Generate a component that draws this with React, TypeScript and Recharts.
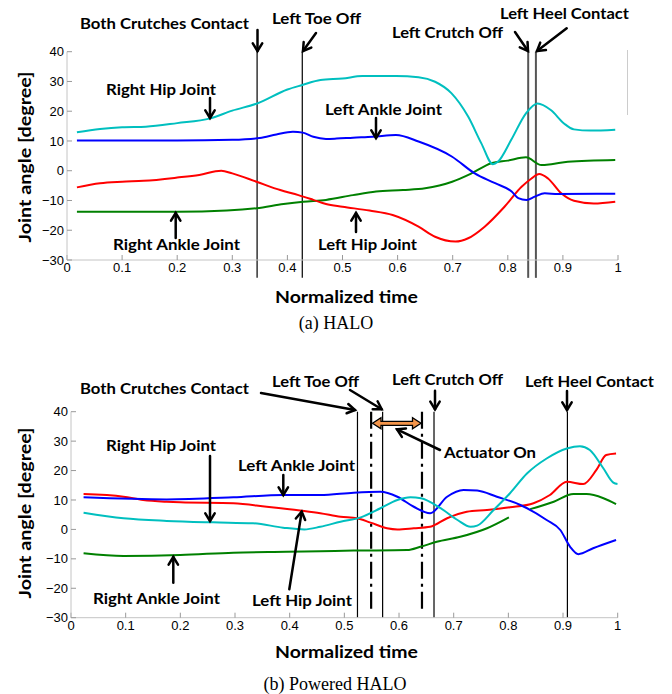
import React from "react";
import { LineChart, Line, XAxis, YAxis, ReferenceLine } from "recharts";

type Pt = [number, number];

const timeTicks = [0, 0.1, 0.2, 0.3, 0.4, 0.5, 0.6, 0.7, 0.8, 0.9, 1];
const angleTicks = [-30, -20, -10, 0, 10, 20, 30, 40];

// (a) HALO  [normalized time, joint angle in degree]
const haloRightHip: Pt[] = [
  [0.018, 12.9], [0.06, 14.0], [0.1, 14.6], [0.143, 14.8], [0.2, 16.0], [0.26, 17.6],
  [0.3, 20.2], [0.345, 22.6], [0.4, 27.3], [0.427, 28.8], [0.46, 30.5], [0.5, 31.0],
  [0.536, 31.8], [0.597, 31.8], [0.638, 31.4], [0.668, 29.9], [0.698, 26.0], [0.728, 18.2],
  [0.752, 9.2], [0.773, 2.2], [0.782, 3.0], [0.806, 10.3], [0.833, 19.3], [0.854, 22.6],
  [0.878, 20.4], [0.902, 15.9], [0.92, 13.9], [0.95, 13.5], [0.995, 13.8],
];
const haloLeftAnkle: Pt[] = [
  [0.018, 10.2], [0.2, 10.2], [0.3, 10.4], [0.35, 11.0], [0.38, 12.2], [0.41, 13.1],
  [0.428, 12.8], [0.447, 11.4], [0.47, 10.7], [0.489, 10.8], [0.519, 11.1], [0.555, 11.4],
  [0.597, 12.0], [0.638, 9.8], [0.699, 4.7], [0.74, -0.9], [0.777, -4.2], [0.807, -7.0],
  [0.819, -9.2], [0.834, -9.8], [0.849, -8.7], [0.867, -7.6], [0.891, -7.8], [0.995, -7.7],
];
const haloLeftHip: Pt[] = [
  [0.018, -5.6], [0.06, -4.2], [0.1, -3.7], [0.139, -3.4], [0.2, -2.3], [0.24, -1.4],
  [0.28, 0.0], [0.3, -0.9], [0.344, -3.7], [0.387, -6.5], [0.42, -8.2], [0.447, -9.8],
  [0.47, -11.2], [0.5, -12.1], [0.549, -13.4], [0.591, -14.9], [0.638, -18.8], [0.668, -22.2],
  [0.705, -23.8], [0.728, -22.7], [0.758, -18.8], [0.794, -12.1], [0.825, -5.4], [0.843, -2.6],
  [0.857, -1.1], [0.873, -2.6], [0.897, -7.6], [0.92, -10.1], [0.956, -11.0], [0.995, -10.4],
];
const haloRightAnkle: Pt[] = [
  [0.018, -13.8], [0.2, -13.8], [0.29, -13.4], [0.344, -12.6], [0.393, -11.2], [0.429, -10.4],
  [0.47, -9.8], [0.519, -8.2], [0.561, -7.0], [0.61, -6.5], [0.65, -5.9], [0.699, -3.7],
  [0.734, -0.9], [0.77, 2.5], [0.8, 3.4], [0.833, 4.5], [0.861, 1.9], [0.879, 2.2],
  [0.909, 3.0], [0.995, 3.6],
];
const haloEvents = [0.345, 0.427];
const haloLateEvents = [0.837, 0.851];

// (b) Powered HALO
const pwrLeftHip: Pt[] = [
  [0.023, 12.0], [0.096, 11.1], [0.132, 10.0], [0.175, 9.4], [0.2, 9.2], [0.297, 8.9],
  [0.358, 7.7], [0.419, 6.4], [0.456, 5.5], [0.493, 4.3], [0.523, 3.8], [0.548, 2.3],
  [0.578, 0.4], [0.597, 0.0], [0.627, 0.4], [0.657, 0.9], [0.688, 3.8], [0.724, 6.0],
  [0.761, 6.6], [0.803, 7.5], [0.846, 8.9], [0.876, 11.7], [0.907, 16.2], [0.937, 15.4],
  [0.961, 20.2], [0.979, 25.3], [0.997, 25.8],
];
const pwrLeftAnkle: Pt[] = [
  [0.023, 10.9], [0.175, 10.2], [0.297, 10.9], [0.388, 11.7], [0.456, 11.7], [0.517, 12.5],
  [0.566, 12.8], [0.597, 11.1], [0.627, 7.7], [0.657, 5.5], [0.688, 11.1], [0.718, 13.4],
  [0.743, 13.2], [0.779, 11.1], [0.822, 8.3], [0.87, 3.2], [0.895, -0.2], [0.913, -5.9],
  [0.928, -8.4], [0.955, -6.4], [0.997, -3.6],
];
const pwrRightHip: Pt[] = [
  [0.023, 5.7], [0.096, 3.8], [0.175, 2.9], [0.26, 2.4], [0.333, 2.1], [0.388, 0.6],
  [0.427, 0.0], [0.456, 0.9], [0.493, 2.6], [0.53, 4.1], [0.566, 7.2], [0.597, 10.0],
  [0.621, 10.9], [0.64, 10.6], [0.676, 7.2], [0.707, 3.2], [0.731, 0.9], [0.743, 1.3],
  [0.773, 6.6], [0.803, 12.3], [0.834, 19.0], [0.87, 24.1], [0.907, 27.5], [0.931, 28.3],
  [0.949, 27.0], [0.974, 20.7], [0.992, 15.9], [1.0, 15.4],
];
const pwrRightAnkleA: Pt[] = [
  [0.023, -8.1], [0.096, -9.0], [0.2, -8.7], [0.297, -7.9], [0.394, -7.6], [0.456, -7.4],
  [0.517, -7.2], [0.615, -7.0], [0.639, -5.9], [0.669, -4.2], [0.712, -2.5], [0.761, 0.4],
  [0.801, 4.1],
];
const pwrRightAnkleB: Pt[] = [
  [0.84, 6.9], [0.883, 9.4], [0.919, 12.0], [0.943, 12.0], [0.974, 10.6], [0.997, 8.6],
];
const pwrEvents = [0.524, 0.57, 0.664, 0.908];
const actuatorWindow = [0.549, 0.642];

const CYAN = "#00BFBF";
const BLUE = "#0000FF";
const RED = "#FF0000";
const GREEN = "#008000";

const rows = (pts: Pt[]) => pts.map(([t, v]) => ({ t, v }));
const fmtAngle = (v: number) => (v < 0 ? "\u2212" + Math.abs(v) : String(v));

const tickFont = { fontSize: 13, fill: "#000", fontFamily: "Liberation Sans, Arial, sans-serif" };
const bold = { fontFamily: "Lato, 'Open Sans', sans-serif", fontWeight: 700, fontSize: 16, fill: "#000" };

function Panel({
  height,
  margin,
  series,
  rightColor,
  children,
}: {
  height: number;
  margin: { top: number; right: number; bottom: number; left: number };
  series: { pts: Pt[]; color: string }[];
  rightColor: string;
  children?: React.ReactNode;
}) {
  return (
    <LineChart width={672} height={height} margin={margin}>
      <XAxis
        dataKey="t"
        type="number"
        domain={[0, 1]}
        ticks={timeTicks}
        interval={0}
        allowDataOverflow
        height={30}
        tickSize={-5}
        tickMargin={8}
        tick={tickFont}
        tickFormatter={(v) => String(v)}
        stroke="#c4c4c4"
        tickLine={{ stroke: "#999" }}
      />
      <XAxis
        xAxisId="top"
        orientation="top"
        type="number"
        domain={[0, 1]}
        ticks={timeTicks}
        interval={0}
        height={0}
        tick={false}
        tickSize={-5}
        stroke="#000"
        tickLine={{ stroke: "#999" }}
      />
      <YAxis
        type="number"
        domain={[-30, 40]}
        ticks={angleTicks}
        interval={0}
        allowDataOverflow
        width={40}
        tickSize={-5}
        tickMargin={8}
        tick={tickFont}
        tickFormatter={fmtAngle}
        stroke="#c4c4c4"
        tickLine={{ stroke: "#999" }}
      />
      <YAxis
        yAxisId="right"
        orientation="right"
        type="number"
        domain={[-30, 40]}
        ticks={angleTicks}
        interval={0}
        width={0}
        tick={false}
        tickSize={-5}
        stroke={rightColor}
        tickLine={{ stroke: "#777" }}
      />
      {children}
      {series.map((s, i) => (
        <Line
          key={i}
          data={rows(s.pts)}
          dataKey="v"
          type="monotone"
          stroke={s.color}
          strokeWidth={2}
          dot={false}
          isAnimationActive={false}
        />
      ))}
    </LineChart>
  );
}

function Arrow({ x1, y1, x2, y2 }: { x1: number; y1: number; x2: number; y2: number }) {
  const a = Math.atan2(y2 - y1, x2 - x1);
  const h = 9;
  const p1 = [x2 - h * Math.cos(a - 0.55), y2 - h * Math.sin(a - 0.55)];
  const p2 = [x2 - h * Math.cos(a + 0.55), y2 - h * Math.sin(a + 0.55)];
  return (
    <g stroke="#000" strokeWidth={2.5} fill="none" strokeLinecap="round">
      <line x1={x1} y1={y1} x2={x2} y2={y2} />
      <polyline points={`${p1[0]},${p1[1]} ${x2},${y2} ${p2[0]},${p2[1]}`} />
    </g>
  );
}

function Label({ x, y, w, text }: { x: number; y: number; w: number; text: string }) {
  return (
    <text x={x} y={y} textLength={w} lengthAdjust="spacingAndGlyphs" {...bold}>
      {text}
    </text>
  );
}

export default function App() {
  return (
    <div style={{ position: "absolute", left: 0, top: 0, width: 672, height: 694, background: "#fff" }}>
      <div style={{ position: "absolute", left: 0, top: 0 }}>
        <Panel
          height={340}
          margin={{ top: 51.7, right: 54, bottom: 50, left: 27 }}
          rightColor="#999"
          series={[
            { pts: haloRightAnkle, color: GREEN },
            { pts: haloLeftHip, color: RED },
            { pts: haloLeftAnkle, color: BLUE },
            { pts: haloRightHip, color: CYAN },
          ]}
        >
          {haloEvents.map((t) => (
            <ReferenceLine
              key={t}
              segment={[{ x: t, y: 40 }, { x: t, y: -36 }]}
              stroke="#000"
              strokeWidth={1.2}
              ifOverflow="visible"
            />
          ))}
          {haloLateEvents.map((t) => (
            <ReferenceLine
              key={t}
              segment={[{ x: t, y: 40 }, { x: t, y: -36 }]}
              stroke="#555"
              strokeWidth={2}
              ifOverflow="visible"
            />
          ))}
        </Panel>
      </div>
      <div style={{ position: "absolute", left: 0, top: 360 }}>
        <Panel
          height={334}
          margin={{ top: 51.7, right: 54.3, bottom: 46.3, left: 31 }}
          rightColor="#c4c4c4"
          series={[
            { pts: pwrRightAnkleA, color: GREEN },
            { pts: pwrRightAnkleB, color: GREEN },
            { pts: pwrLeftHip, color: RED },
            { pts: pwrLeftAnkle, color: BLUE },
            { pts: pwrRightHip, color: CYAN },
          ]}
        >
          {pwrEvents.map((t) => (
            <ReferenceLine
              key={t}
              segment={[{ x: t, y: 40 }, { x: t, y: -30 }]}
              stroke="#000"
              strokeWidth={1.2}
              ifOverflow="visible"
            />
          ))}
          {actuatorWindow.map((t) => (
            <ReferenceLine
              key={t}
              segment={[{ x: t, y: 40 }, { x: t, y: -28.5 }]}
              stroke="#000"
              strokeWidth={2.2}
              strokeDasharray="17 5 3 5"
              ifOverflow="visible"
            />
          ))}
        </Panel>
      </div>
      <svg
        width={672}
        height={694}
        style={{ position: "absolute", left: 0, top: 0, pointerEvents: "none" }}
      >
        {/* (a) HALO annotations */}
        <line x1={627.5} y1={50} x2={627.5} y2={115} stroke="#ccc" strokeWidth={1} />
        <Label x={80} y={29} w={169} text="Both Crutches Contact" />
        <Arrow x1={257.5} y1={30} x2={257.5} y2={51} />
        <Label x={272} y={24} w={89} text="Left Toe Off" />
        <Arrow x1={316} y1={33} x2={303} y2={51} />
        <Label x={392} y={38} w={111} text="Left Crutch Off" />
        <Arrow x1={515} y1={32} x2={528} y2={51} />
        <Label x={500} y={19} w={129} text="Left Heel Contact" />
        <Arrow x1={566.7} y1={28.3} x2={537} y2={51} />
        <Label x={106} y={95} w={110} text="Right Hip Joint" />
        <Arrow x1={210} y1={98} x2={210} y2={118} />
        <Label x={325} y={115} w={117} text="Left Ankle Joint" />
        <Arrow x1={376} y1={118} x2={376} y2={138} />
        <Label x={113} y={250} w={127} text="Right Ankle Joint" />
        <Arrow x1={175.7} y1={238} x2={175.7} y2={213} />
        <Label x={318} y={250} w={99} text="Left Hip Joint" />
        <Arrow x1={356} y1={232} x2={356} y2={213} />
        <text
          transform="translate(31,157) rotate(-90)"
          textAnchor="middle"
          textLength={171}
          lengthAdjust="spacingAndGlyphs"
          {...bold}
          fontSize={17}
        >
          Joint angle [degree]
        </text>
        <text x={275} y={303} textLength={143} lengthAdjust="spacingAndGlyphs" {...bold} fontSize={17}>
          Normalized time
        </text>
        <text x={336} y={329} textAnchor="middle" fontFamily="Liberation Serif, Times New Roman, serif" fontSize={18}>
          (a) HALO
        </text>

        {/* (b) Powered HALO annotations */}
        <Label x={80} y={394} w={169} text="Both Crutches Contact" />
        <Arrow x1={261} y1={393} x2={355} y2={410} />
        <Label x={272} y={387} w={87} text="Left Toe Off" />
        <Arrow x1={350} y1={390} x2={381.7} y2={409.3} />
        <Label x={392} y={385} w={111} text="Left Crutch Off" />
        <Arrow x1={435} y1={390.7} x2={435} y2={409.3} />
        <Label x={525} y={387} w={129} text="Left Heel Contact" />
        <Arrow x1={567} y1={391} x2={567} y2={410} />
        <polygon
          points="372.5,423.3 381,417.8 381,421.3 412.5,421.3 412.5,417.8 421,423.3 412.5,428.8 412.5,425.3 381,425.3 381,428.8"
          fill="#F4954A"
          stroke="#000"
          strokeWidth={1.3}
        />
        <Label x={444} y={458} w={92} text="Actuator On" />
        <Arrow x1={440} y1={450} x2={397} y2={429.3} />
        <Label x={106} y={451} w={110} text="Right Hip Joint" />
        <Arrow x1={210} y1={456} x2={210} y2={521} />
        <Label x={238} y={471} w={117} text="Left Ankle Joint" />
        <Arrow x1={283.3} y1={475} x2={283.3} y2={495} />
        <Label x={93} y={604} w={127} text="Right Ankle Joint" />
        <Arrow x1={173.3} y1={582.7} x2={173.3} y2={557} />
        <Label x={252} y={606} w={100} text="Left Hip Joint" />
        <Arrow x1={289.3} y1={589.3} x2={301.7} y2={511.7} />
        <text
          transform="translate(31,513) rotate(-90)"
          textAnchor="middle"
          textLength={171}
          lengthAdjust="spacingAndGlyphs"
          {...bold}
          fontSize={17}
        >
          Joint angle [degree]
        </text>
        <text x={275} y={658} textLength={143} lengthAdjust="spacingAndGlyphs" {...bold} fontSize={17}>
          Normalized time
        </text>
        <text x={335} y={690} textAnchor="middle" fontFamily="Liberation Serif, Times New Roman, serif" fontSize={18}>
          (b) Powered HALO
        </text>
      </svg>
    </div>
  );
}
